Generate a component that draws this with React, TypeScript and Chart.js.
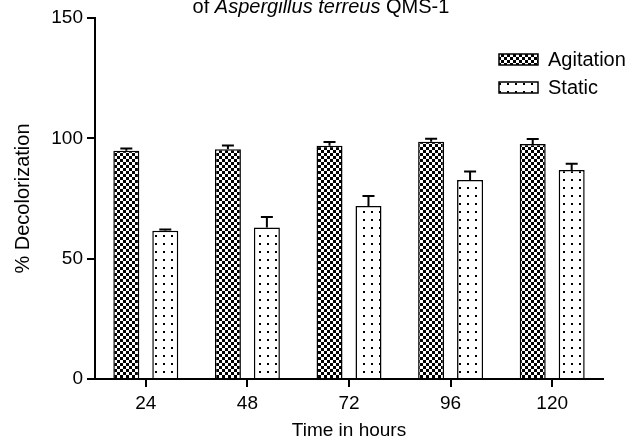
import React, { useEffect, useRef } from "react";
import { Chart, registerables } from "chart.js";

Chart.register(...registerables);

const categories = ["24", "48", "72", "96", "120"];
const agitationValues = [94.8, 95.5, 96.9, 98.6, 97.6];
const agitationErrors = [1.0, 1.5, 1.6, 1.2, 2.1];
const staticValues = [61.6, 62.9, 71.9, 82.7, 86.8];
const staticErrors = [0.5, 4.4, 4.1, 3.5, 2.6];
const seriesNames = ["Agitation", "Static"];
const yTicks = [0, 50, 100, 150];

const FONT = "'Liberation Sans', Arial, sans-serif";

function makeChecker(): CanvasPattern | string {
  const c = document.createElement("canvas");
  c.width = 6;
  c.height = 6;
  const x = c.getContext("2d");
  if (!x) return "#000";
  x.fillStyle = "#000";
  x.fillRect(0, 0, 6, 6);
  x.fillStyle = "#fff";
  x.fillRect(0, 0, 3, 3);
  x.fillRect(3, 3, 3, 3);
  return x.createPattern(c, "repeat") || "#000";
}

function makeDots(): CanvasPattern | string {
  const c = document.createElement("canvas");
  c.width = 8;
  c.height = 8;
  const x = c.getContext("2d");
  if (!x) return "#fff";
  x.fillStyle = "#fff";
  x.fillRect(0, 0, 8, 8);
  x.fillStyle = "#000";
  x.fillRect(3, 3, 2, 2);
  return x.createPattern(c, "repeat") || "#fff";
}

export default function App() {
  const ref = useRef<HTMLCanvasElement>(null);

  useEffect(() => {
    if (!ref.current) return;
    const checker = makeChecker();
    const dots = makeDots();
    const errors = [agitationErrors, staticErrors];
    const fills = [checker, dots];

    const errorBars = {
      id: "errorBars",
      afterDatasetsDraw(chart: any) {
        const ctx = chart.ctx;
        const y = chart.scales.y;
        ctx.save();
        ctx.strokeStyle = "#000";
        ctx.lineWidth = 2;
        chart.data.datasets.forEach((ds: any, di: number) => {
          const meta = chart.getDatasetMeta(di);
          meta.data.forEach((el: any, i: number) => {
            const v = ds.data[i];
            const e = errors[di][i];
            const yb = y.getPixelForValue(v);
            const yt = y.getPixelForValue(v + e);
            ctx.beginPath();
            ctx.moveTo(el.x, yb);
            ctx.lineTo(el.x, yt);
            ctx.moveTo(el.x - 6, yt);
            ctx.lineTo(el.x + 6, yt);
            ctx.stroke();
          });
        });
        ctx.restore();
      },
    };

    const overlay = {
      id: "overlay",
      afterDraw(chart: any) {
        const ctx = chart.ctx;
        ctx.save();
        // title (top line clipped)
        ctx.fillStyle = "#000";
        ctx.textBaseline = "alphabetic";
        const parts = [
          { t: "of ", f: `20px ${FONT}` },
          { t: "Aspergillus terreus", f: `italic 20px ${FONT}` },
          { t: " QMS-1", f: `20px ${FONT}` },
        ];
        let total = 0;
        parts.forEach((p) => {
          ctx.font = p.f;
          total += ctx.measureText(p.t).width;
        });
        let x = 321 - total / 2;
        parts.forEach((p) => {
          ctx.font = p.f;
          ctx.fillText(p.t, x, 13);
          x += ctx.measureText(p.t).width;
        });
        // legend
        const tops = [54, 82];
        seriesNames.forEach((name, i) => {
          ctx.fillStyle = fills[i];
          ctx.fillRect(499, tops[i], 39, 11);
          ctx.strokeStyle = "#000";
          ctx.lineWidth = 1.5;
          ctx.strokeRect(499, tops[i], 39, 11);
          ctx.fillStyle = "#000";
          ctx.font = `20px ${FONT}`;
          ctx.textBaseline = "middle";
          ctx.textAlign = "left";
          ctx.fillText(name, 548, tops[i] + 6);
        });
        ctx.restore();
      },
    };

    const chart = new Chart(ref.current, {
      type: "bar",
      data: {
        labels: categories,
        datasets: [
          {
            label: seriesNames[0],
            data: agitationValues,
            backgroundColor: checker as any,
            borderColor: "#000",
            borderWidth: 1.5,
            categoryPercentage: 0.767,
            barPercentage: 0.667,
          },
          {
            label: seriesNames[1],
            data: staticValues,
            backgroundColor: dots as any,
            borderColor: "#000",
            borderWidth: 1.5,
            categoryPercentage: 0.767,
            barPercentage: 0.667,
          },
        ],
      },
      options: {
        animation: false,
        responsive: true,
        maintainAspectRatio: false,
        layout: { padding: { top: 18, right: 36, left: 0, bottom: 0 } },
        plugins: {
          legend: { display: false },
          title: { display: false },
          tooltip: { enabled: false },
        },
        scales: {
          x: {
            grid: {
              display: true,
              drawOnChartArea: false,
              drawTicks: true,
              tickLength: 8,
              color: "#000",
              lineWidth: 2,
              offset: false,
            },
            border: { display: true, color: "#000", width: 2 },
            ticks: {
              color: "#000",
              font: { family: FONT, size: 19 },
              padding: 5,
              maxRotation: 0,
            },
            title: {
              display: true,
              text: "Time in hours",
              color: "#000",
              font: { family: FONT, size: 19, lineHeight: 1 },
              padding: { top: 0, bottom: 0 },
            },
            afterFit(scale: any) {
              scale.height = 61;
            },
          },
          y: {
            min: 0,
            max: 150,
            afterBuildTicks(scale: any) {
              scale.ticks = yTicks.map((v) => ({ value: v }));
            },
            grid: {
              display: true,
              drawOnChartArea: false,
              drawTicks: true,
              tickLength: 8,
              color: "#000",
              lineWidth: 2,
            },
            border: { display: true, color: "#000", width: 2 },
            ticks: {
              color: "#000",
              font: { family: FONT, size: 19 },
              padding: 4,
            },
            title: {
              display: true,
              text: "% Decolorization",
              color: "#000",
              font: { family: FONT, size: 20, lineHeight: 1 },
              padding: { top: 13, bottom: 0 },
            },
            afterFit(scale: any) {
              scale.width = 95;
            },
          },
        },
      },
      plugins: [errorBars, overlay],
    });
    return () => chart.destroy();
  }, []);

  return (
    <div
      style={{
        position: "fixed",
        left: 0,
        top: 0,
        width: 639,
        height: 440,
        background: "#fff",
      }}
    >
      <canvas ref={ref} />
    </div>
  );
}
